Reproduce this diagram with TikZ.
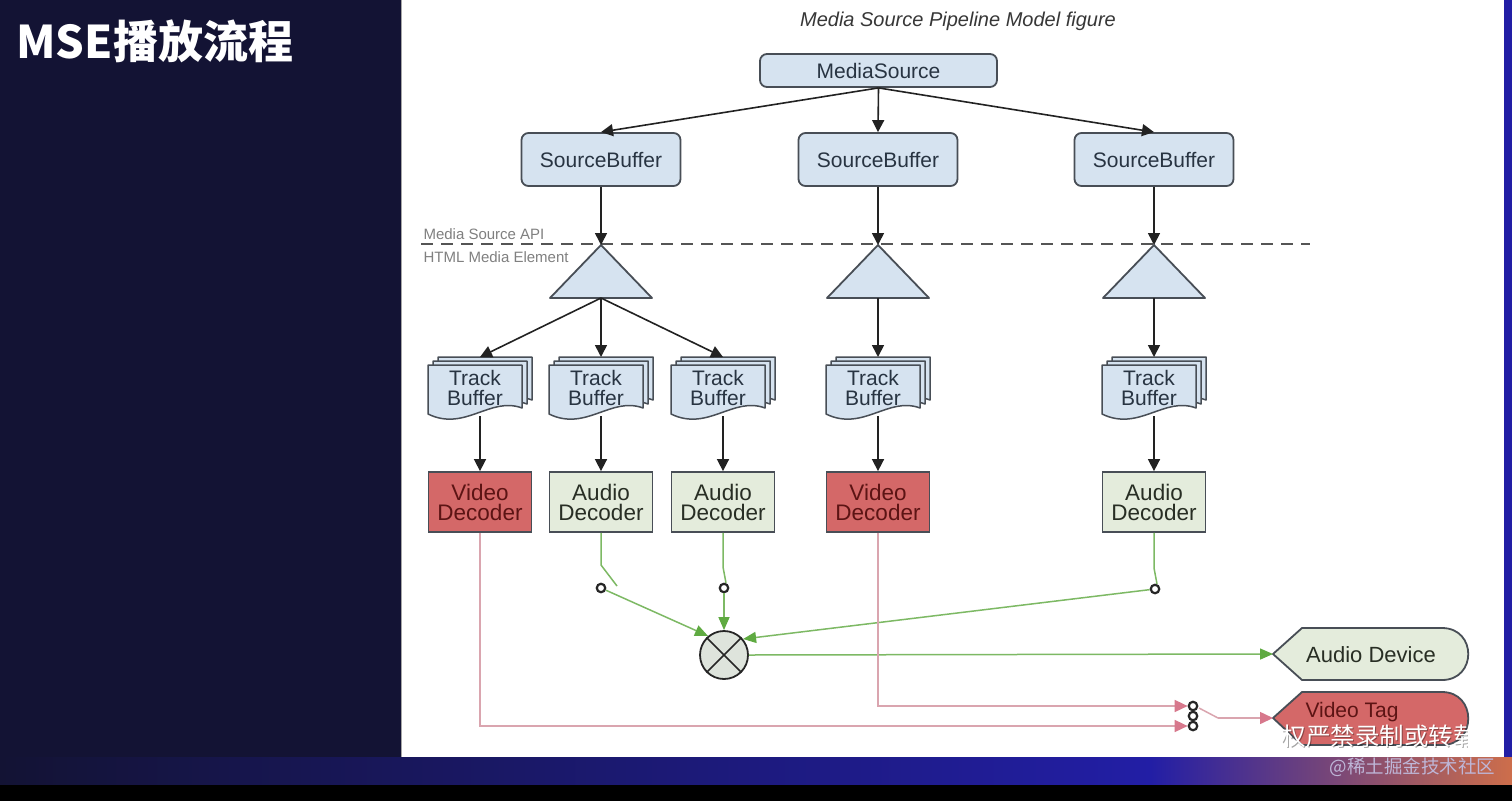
\documentclass[tikz,border=0pt]{standalone}
\usepackage{fontspec}
\setmainfont{Liberation Sans}
\newfontfamily\cjk{Noto Sans CJK SC}
\usetikzlibrary{arrows.meta}
\definecolor{navy}{RGB}{19,19,52}
\definecolor{bandblue}{RGB}{34,30,165}
\definecolor{bandpurple}{RGB}{120,60,150}
\definecolor{bandorange}{RGB}{205,110,75}
\definecolor{boxblue}{RGB}{214,227,240}
\definecolor{edgegrey}{RGB}{72,78,86}
\definecolor{txtblue}{RGB}{40,52,66}
\definecolor{vred}{RGB}{212,104,104}
\definecolor{vtxt}{RGB}{92,20,20}
\definecolor{agreen}{RGB}{228,236,220}
\definecolor{atxt}{RGB}{40,46,36}
\definecolor{gline}{RGB}{125,185,100}
\definecolor{gtip}{RGB}{95,170,65}
\definecolor{pline}{RGB}{218,165,175}
\definecolor{ptip}{RGB}{215,120,140}
\definecolor{dashgrey}{RGB}{85,85,85}
\definecolor{arrblack}{RGB}{34,34,34}
\tikzset{
  sbbox/.style={draw=edgegrey, line width=1.8, fill=boxblue, rounded corners=7,
    text=txtblue, font=\fontsize{21}{24}\selectfont, inner sep=0},
  arr/.style={draw=arrblack, line width=1.6, -{Triangle[length=12pt,width=12pt]}},
  tbtext/.style={align=center, font=\fontsize{21}{19.5}\selectfont, text=txtblue, inner sep=0},
  page/.style={draw=edgegrey, line width=1.5, fill=boxblue, line join=round},
  decbox/.style={draw=edgegrey, line width=1.8, minimum width=103, minimum height=60,
    inner sep=0, align=center, font=\fontsize{22.5}{20}\selectfont},
  vdec/.style={decbox, fill=vred, text=vtxt},
  adec/.style={decbox, fill=agreen, text=atxt},
  gl/.style={draw=gline, line width=1.5},
  garr/.style={gl, -{Triangle[length=13pt,width=11pt,color=gtip]}},
  pl/.style={draw=pline, line width=1.5},
  parr/.style={pl, -{Triangle[length=13pt,width=12pt,color=ptip]}},
  sw/.style={circle, draw=black!85, line width=2.2, minimum size=8.5, inner sep=0, fill=white},
  tri/.style={draw=edgegrey, line width=1.8, fill=boxblue, line join=round},
  outshape/.style={draw=edgegrey, line width=1.8, line join=round},
}
\newcommand\mytri[2]{%
  \draw[tri] (#1,245) -- (#1+51,298) -- (#1-51,298) -- cycle;
  \coordinate (#2a) at (#1,245);
  \coordinate (#2b) at (#1,298);}
\newcommand\mytbuf[2]{%
  \begin{scope}[shift={(#1,0)}]
    \foreach \d in {10,5,0}{%
      \begin{scope}[shift={(\d,-0.8*\d)}]
        \draw[page] (-52,365) -- (42,365) -- (42,408)
          .. controls (10,396) and (-15,432) .. (-52,414) -- cycle;
      \end{scope}}
    \node[tbtext] (#2) at (-5,388) {Track\\Buffer};
    \coordinate (#2t) at (0,357);
    \coordinate (#2b) at (0,416);
  \end{scope}}
\begin{document}
\begin{tikzpicture}[x=1pt,y=-1pt]
\useasboundingbox (0,0) rectangle (1512,801);
% background
\fill[navy] (0,0) rectangle (1512,801);
\shade[left color=navy, right color=bandblue] (0,757) rectangle (1150,785);
\shade[left color=bandblue, middle color=bandpurple, right color=bandorange] (1150,757) rectangle (1512,785);
\fill[black] (0,785) rectangle (1512,801);
\fill[bandblue] (1504,0) rectangle (1512,757);
\fill[white] (401,0) rectangle (1504,757);
\draw[gray!70, line width=1] (401,0) -- (401,757);
% title
\node[anchor=base west, text=white, font=\cjk\bfseries\fontsize{45}{45}\selectfont] (title) at (13,58) {MSE播放流程};
\node[font=\itshape\fontsize{20}{24}\selectfont, text={rgb,255:red,55;green,55;blue,55}] (cap) at (958,21) {Media Source Pipeline Model figure};
% media source and source buffers
\node[sbbox, minimum width=237, minimum height=33] (ms) at (878.5,70.5) {MediaSource};
\node[sbbox, minimum width=159, minimum height=53] (sb1) at (601,159.5) {SourceBuffer};
\node[sbbox, minimum width=159, minimum height=53] (sb2) at (878,159.5) {SourceBuffer};
\node[sbbox, minimum width=159, minimum height=53] (sb3) at (1154,159.5) {SourceBuffer};
\draw[arr] (ms.south) -- (sb1.north);
\draw[arr] (ms.south) -- (sb2.north);
\draw[arr] (ms.south) -- (sb3.north);
% API boundary
\coordinate (dl) at (421,244);
\coordinate (dr) at (1310,244);
\draw[dashgrey, line width=1.6, dash pattern=on 12pt off 8pt] (dl) -- (dr);
\node[anchor=base west, font=\fontsize{15}{18}\selectfont, text=gray] (api) at (420,239) {Media Source API};
\node[anchor=base west, font=\fontsize{15}{18}\selectfont, text=gray] (html) at (420,262) {HTML Media Element};
% triangles
\mytri{601}{t1}
\mytri{878}{t2}
\mytri{1154}{t3}
\draw[arr] (sb1.south) -- (t1a);
\draw[arr] (sb2.south) -- (t2a);
\draw[arr] (sb3.south) -- (t3a);
% track buffers
\mytbuf{480}{tb1}
\mytbuf{601}{tb2}
\mytbuf{723}{tb3}
\mytbuf{878}{tb4}
\mytbuf{1154}{tb5}
\draw[arr] (t1b) -- (tb1t);
\draw[arr] (t1b) -- (tb2t);
\draw[arr] (t1b) -- (tb3t);
\draw[arr] (t2b) -- (tb4t);
\draw[arr] (t3b) -- (tb5t);
% decoders
\node[vdec] (vd1) at (480,502) {Video\\Decoder};
\node[adec] (ad1) at (601,502) {Audio\\Decoder};
\node[adec] (ad2) at (723,502) {Audio\\Decoder};
\node[vdec] (vd2) at (878,502) {Video\\Decoder};
\node[adec] (ad3) at (1154,502) {Audio\\Decoder};
\draw[arr] (tb1b) -- (vd1.north);
\draw[arr] (tb2b) -- (ad1.north);
\draw[arr] (tb3b) -- (ad2.north);
\draw[arr] (tb4b) -- (vd2.north);
\draw[arr] (tb5b) -- (ad3.north);
% mixer
\node[circle, draw=black!85, line width=1.8, fill={rgb,255:red,222;green,228;blue,220}, minimum size=48, inner sep=0] (mix) at (724,655) {};
\draw[black!85, line width=1.6] (mix.45) -- (mix.225) (mix.135) -- (mix.315);
% audio switches
\coordinate (a1k) at (601,565); \coordinate (a1e) at (617,586);
\coordinate (a2k) at (723,567); \coordinate (a2e) at (726,583);
\coordinate (a3k) at (1154,568); \coordinate (a3e) at (1157,584);
\draw[gl] (ad1.south) -- (a1k) -- (a1e);
\draw[gl] (ad2.south) -- (a2k) -- (a2e);
\draw[gl] (ad3.south) -- (a3k) -- (a3e);
\node[sw] (c1) at (601,588) {};
\node[sw] (c2) at (724,588) {};
\node[sw] (c3) at (1155,589) {};
\draw[garr] (c1) -- (mix.130);
\draw[garr] (c2) -- (mix.north);
\draw[garr] (c3) -- (mix.40);
% audio device
\draw[outshape, fill=agreen] (1273,654) -- (1302,628) -- (1442,628)
  .. controls (1477,628) and (1477,680) .. (1442,680) -- (1302,680) -- cycle;
\coordinate (adevL) at (1273,654);
\node[font=\fontsize{22}{22}\selectfont, text=atxt] (adev) at (1371,655) {Audio Device};
\draw[garr] (mix.east) -- (adevL);
% video tag
\draw[outshape, fill=vred] (1273,718) -- (1302,692) -- (1442,692)
  .. controls (1477,692) and (1477,745) .. (1442,745) -- (1302,745) -- cycle;
\coordinate (vtagL) at (1273,718);
\node[font=\fontsize{21}{21}\selectfont, text=vtxt] (vtag) at (1352,712) {Video Tag};
% video switches
\node[sw] (vc1) at (1193,706) {};
\node[sw] (vc2) at (1193,716) {};
\node[sw] (vc3) at (1193,726) {};
\coordinate (v1k) at (480,726);
\coordinate (v2k) at (878,706);
\draw[parr] (vd1.south) -- (v1k) -- (vc3);
\draw[parr] (vd2.south) -- (v2k) -- (vc1);
\coordinate (lv1) at (1199,708);
\coordinate (lv2) at (1218,718);
\draw[pl] (lv1) -- (lv2);
\draw[parr] (lv2) -- (vtagL);
% watermark
\begin{scope}
  \clip (1282,718) rectangle (1467,757);
  \node[anchor=west, text=black, opacity=0.35, font=\cjk\fontsize{24.5}{24.5}\selectfont] (wms) at (1279,737) {权严禁录制或转载};
  \node[anchor=west, text=white, font=\cjk\fontsize{24.5}{24.5}\selectfont] (wm) at (1278,736) {权严禁录制或转载};
\end{scope}
\node[anchor=west, text={rgb,255:red,190;green,182;blue,215}, font=\cjk\fontsize{18.5}{18.5}\selectfont] (sig) at (1326,767) {@稀土掘金技术社区};
\end{tikzpicture}
\end{document}
